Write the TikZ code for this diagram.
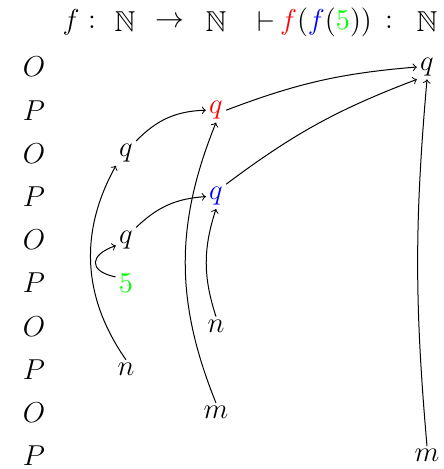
\documentclass[tikz,border=0pt]{standalone}
\usepackage{amssymb}
\begin{document}
\begin{tikzpicture}[x=0.5pt,y=0.5pt,
  every node/.style={font=\Large},
  mv/.style={inner sep=1.5pt},
  ptr/.style={->,line width=0.5pt}]
\useasboundingbox (0,0) rectangle (443,469);
% header
\node (h1) at (71,447) {$f$};
\node (h2) at (92,447) {$:$};
\node (h3) at (125,447) {$\mathbb{N}$};
\node (h4) at (170,447) {$\rightarrow$};
\node (h5) at (216,447) {$\mathbb{N}$};
\node (h6) at (266,447) {$\vdash$};
\node (h7) at (326,447) {$\textcolor{red}{f}(\textcolor{blue}{f}(\textcolor{green}{5}))$};
\node (h8) at (389,447) {$:$};
\node (h9) at (427,447) {$\mathbb{N}$};
% O/P column
\node (l0) at (34,402) {$O$};
\node (l1) at (34,358.8) {$P$};
\node (l2) at (34,315.6) {$O$};
\node (l3) at (34,272.4) {$P$};
\node (l4) at (34,229.2) {$O$};
\node (l5) at (34,186) {$P$};
\node (l6) at (34,142.8) {$O$};
\node (l7) at (34,99.6) {$P$};
\node (l8) at (34,56.4) {$O$};
\node (l9) at (34,13.2) {$P$};
% moves
\node[mv] (q0) at (427,402) {$q$};
\node[mv] (q1) at (216,358.8) {$\textcolor{red}{q}$};
\node[mv] (q2) at (126,315.6) {$q$};
\node[mv] (q3) at (216,272.4) {$\textcolor{blue}{q}$};
\node[mv] (q4) at (126,229.2) {$q$};
\node[mv] (a5) at (126,186) {$\textcolor{green}{5}$};
\node[mv] (a6) at (216,142.8) {$n$};
\node[mv] (a7) at (126,99.6) {$n$};
\node[mv] (a8) at (216,56.4) {$m$};
\node[mv] (a9) at (427,13.2) {$m$};
% pointers
\draw[ptr] (q1.east) to[bend left=8] (q0.west);
\draw[ptr] (q2.north east) to[bend left=22] (q1.west);
\draw[ptr] (q3.north east) to[bend left=8] (q0.south west);
\draw[ptr] (q4.north east) to[bend left=20] (q3.west);
\draw[ptr] (a5.150) .. controls +(-28,6) and +(-26,-9) .. (q4.210);
\draw[ptr] (a6.north) to[bend left=18] (q3.south);
\draw[ptr] (a7.north) to[bend left=32] (q2.south west);
\draw[ptr] (a8.north) to[bend left=22] (q1.south);
\draw[ptr] (a9.north) to[bend left=5] (q0.south);
\end{tikzpicture}
\end{document}
